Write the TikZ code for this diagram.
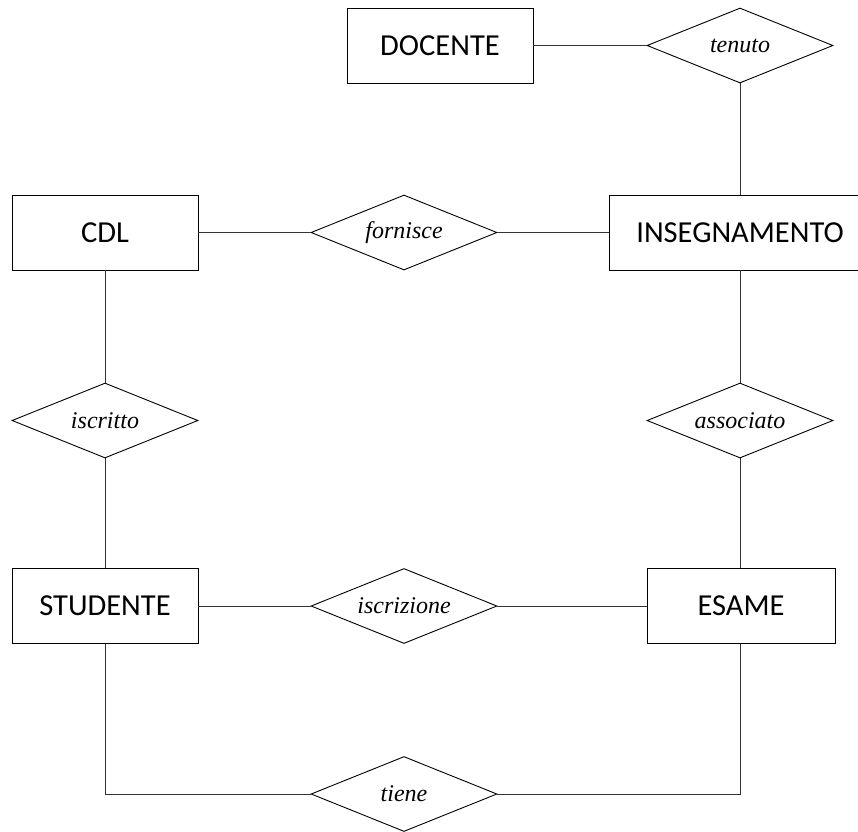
\documentclass[tikz,border=0pt]{standalone}
\usepackage{fontspec}
\setmainfont{Liberation Serif}
\newfontfamily\entityfont{Carlito}
\usetikzlibrary{shapes.geometric}
\tikzset{
  entity/.style={draw=black, line width=0.9pt, rectangle, minimum width=186pt,
    minimum height=75pt, inner sep=0pt, font=\entityfont\fontsize{30.5}{36}\selectfont},
  relation/.style={draw=black, line width=0.9pt, diamond, aspect=2.48, minimum width=186pt,
    minimum height=75pt, inner sep=0pt, font=\itshape\fontsize{24}{28}\selectfont},
  link/.style={draw=black!80, line width=0.9pt}
}
\begin{document}
\begin{tikzpicture}[x=1pt, y=-1pt]
  \useasboundingbox (0,0) rectangle (858,831);
  % entities
  \node[entity] (docente) at (440,45.5) {DOCENTE};
  \node[entity] (cdl) at (105,232.5) {CDL};
  \node[entity, minimum width=262pt] (insegnamento) at (740,232.5) {INSEGNAMENTO};
  \node[entity] (studente) at (105,606) {STUDENTE};
  \node[entity, minimum width=188pt] (esame) at (741,606) {ESAME};
  % relationships
  \node[relation] (tenuto) at (740,45.5) {tenuto};
  \node[relation] (fornisce) at (404,232.5) {fornisce};
  \node[relation] (iscritto) at (105,420.5) {iscritto};
  \node[relation] (associato) at (740,420.5) {associato};
  \node[relation] (iscrizione) at (404,606) {iscrizione};
  \node[relation] (tiene) at (404,794) {tiene};
  % connectors
  \draw[link] (docente.east) -- (tenuto.west);
  \draw[link] (tenuto.south) -- (insegnamento.north);
  \draw[link] (cdl.east) -- (fornisce.west);
  \draw[link] (fornisce.east) -- (insegnamento.west);
  \draw[link] (cdl.south) -- (iscritto.north);
  \draw[link] (iscritto.south) -- (studente.north);
  \draw[link] (insegnamento.south) -- (associato.north);
  \draw[link] (associato.south) -- (associato.south |- esame.north);
  \draw[link] (studente.east) -- (iscrizione.west);
  \draw[link] (iscrizione.east) -- (esame.west);
  \draw[link] (studente.south) |- (tiene.west);
  \draw[link] (tiene.east) -| (associato.south |- esame.south);
\end{tikzpicture}
\end{document}
